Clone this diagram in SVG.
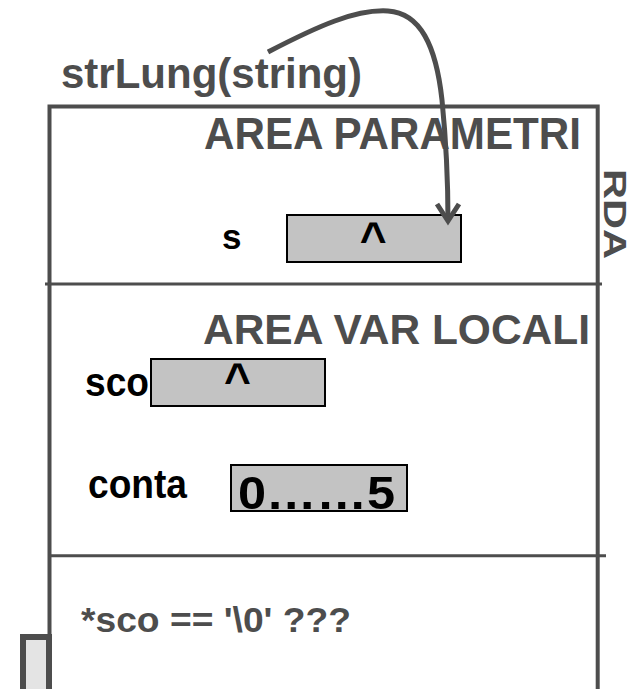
<svg xmlns="http://www.w3.org/2000/svg" width="638" height="689" viewBox="0 0 638 689">
  <style>
    .frame { fill: none; stroke: #4d4d4d; stroke-width: 4; }
    .divider { fill: none; stroke: #4d4d4d; stroke-width: 3; }
    .cell { fill: #c3c3c3; stroke: #000; stroke-width: 2; }
    .title { font-family: "Liberation Sans", Arial, sans-serif; font-weight: bold; fill: #4d4d4d; }
    .label { font-family: "Liberation Sans", Arial, sans-serif; font-weight: bold; fill: #000; }
    .link { fill: none; stroke: #4d4d4d; stroke-width: 5; }
  </style>
  <defs>
    <marker id="openHead" markerUnits="userSpaceOnUse" viewBox="-24 -16 28 32" markerWidth="28" markerHeight="32" refX="0" refY="0" orient="auto" overflow="visible">
      <path d="M-17,-11 L0,0 L-17,11" fill="none" stroke="#4d4d4d" stroke-width="5"/>
    </marker>
  </defs>

  <!-- activation record frame -->
  <g id="record">
    <path class="frame" d="M49.5,700 V106.5 H597.7 V700"/>
    <line class="divider" x1="45" y1="284" x2="602" y2="284"/>
    <line class="divider" x1="50" y1="555.7" x2="606" y2="555.7"/>
    <text class="title" x="604" y="169" font-size="32" textLength="90" lengthAdjust="spacingAndGlyphs" transform="rotate(90 604 169)">RDA</text>
  </g>

  <!-- stack slot below the record -->
  <g id="stack-slot">
    <rect x="23" y="637" width="26" height="80" fill="#e4e4e4" stroke="#4d4d4d" stroke-width="6"/>
  </g>

  <g id="call">
    <text class="title" x="61" y="88" font-size="43" textLength="301" lengthAdjust="spacingAndGlyphs">strLung(string)</text>
  </g>

  <g id="area-parametri">
    <text class="title" x="204" y="149" font-size="44" textLength="377" lengthAdjust="spacingAndGlyphs">AREA PARAMETRI</text>
  </g>

  <g id="param-s">
    <text class="label" x="222" y="249" font-size="35">s</text>
    <rect class="cell" x="287" y="215" width="174" height="47"/>
    <text class="label" x="373.3" y="255" font-size="46" text-anchor="middle">^</text>
  </g>

  <g id="area-var-locali">
    <text class="title" x="203" y="344" font-size="43" textLength="387" lengthAdjust="spacingAndGlyphs">AREA VAR LOCALI</text>
  </g>

  <g id="var-sco">
    <text class="label" x="85" y="396" font-size="41" textLength="64" lengthAdjust="spacingAndGlyphs">sco</text>
    <rect class="cell" x="151" y="359" width="174" height="47"/>
    <text class="label" x="237.5" y="396" font-size="46" text-anchor="middle">^</text>
  </g>

  <g id="var-conta">
    <text class="label" x="88" y="498" font-size="41" textLength="99" lengthAdjust="spacingAndGlyphs">conta</text>
    <rect class="cell" x="231" y="465" width="176" height="46"/>
    <text class="label" x="238" y="509" font-size="47" textLength="157" lengthAdjust="spacingAndGlyphs">0……5</text>
  </g>

  <g id="test">
    <text class="title" x="81" y="632" font-size="35" textLength="270" lengthAdjust="spacingAndGlyphs">*sco == '\0' ???</text>
  </g>

  <!-- argument passed into parameter s -->
  <g id="connectors">
    <path class="link" d="M268,52 C318,26 356,9 388,11 C420,13 436,45 442,100 C446,140 448,180 448,221" marker-end="url(#openHead)"/>
  </g>
</svg>
